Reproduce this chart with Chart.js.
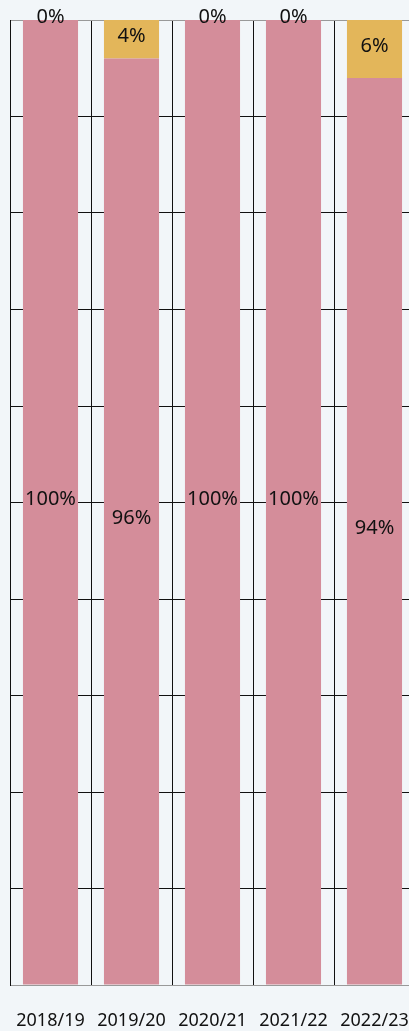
<!DOCTYPE html>
<html>
<head>
<meta charset="utf-8">
<script src="https://cdn.jsdelivr.net/npm/chart.js@4"></script>
<style>
  html, body { margin: 0; padding: 0; background: #F2F6F9; overflow: hidden; width: 409px; height: 1031px; }
  canvas { display: block; }
</style>
</head>
<body>
<canvas id="c" width="425" height="1031"></canvas>
<script>
const categories = ["2018/19", "2019/20", "2020/21", "2021/22", "2022/23"];
const pinkValues = [100, 96, 100, 100, 94];
const goldValues = [0, 4, 0, 0, 6];

const FONT = "'Noto Sans', sans-serif";

const labelPlugin = {
  id: 'barLabels',
  afterDatasetsDraw(chart) {
    const ctx = chart.ctx;
    ctx.save();
    ctx.font = "20px " + FONT;
    ctx.fillStyle = "#111";
    ctx.textAlign = "center";
    ctx.textBaseline = "middle";
    chart.data.datasets.forEach((ds, di) => {
      const meta = chart.getDatasetMeta(di);
      meta.data.forEach((bar, i) => {
        const v = ds.data[i];
        const y = (bar.y + bar.base) / 2 - 3;
        ctx.fillText(v + "%", bar.x, y);
      });
    });
    ctx.restore();
  }
};

new Chart(document.getElementById('c'), {
  type: 'bar',
  data: {
    labels: categories,
    datasets: [
      { label: 'A', data: pinkValues, backgroundColor: '#D48D9A', barPercentage: 0.68, categoryPercentage: 1.0 },
      { label: 'B', data: goldValues, backgroundColor: '#E3B65A', barPercentage: 0.68, categoryPercentage: 1.0 }
    ]
  },
  options: {
    responsive: false,
    animation: false,
    devicePixelRatio: 1,
    layout: { padding: { top: 20, left: 10, right: 10, bottom: 0 } },
    plugins: { legend: { display: false }, tooltip: { enabled: false } },
    scales: {
      x: {
        stacked: true,
        afterFit: (a) => { a.height = 46; a.paddingLeft = 0; a.paddingRight = 0; },
        grid: { display: true, color: '#111', lineWidth: 1, drawTicks: false, offset: true },
        border: { display: true, color: '#999', width: 1 },
        ticks: { color: '#111', font: { family: FONT, size: 18 }, padding: 25, maxRotation: 0, autoSkip: false }
      },
      y: {
        stacked: true,
        min: 0, max: 100,
        afterFit: (a) => { a.width = 0; },
        ticks: { display: false, stepSize: 10 },
        grid: { color: (c) => (c.index === 10 ? '#999' : '#111'), lineWidth: 1, drawTicks: false },
        border: { display: true, color: '#111', width: 1 }
      }
    }
  },
  plugins: [labelPlugin]
});
</script>
</body>
</html>
